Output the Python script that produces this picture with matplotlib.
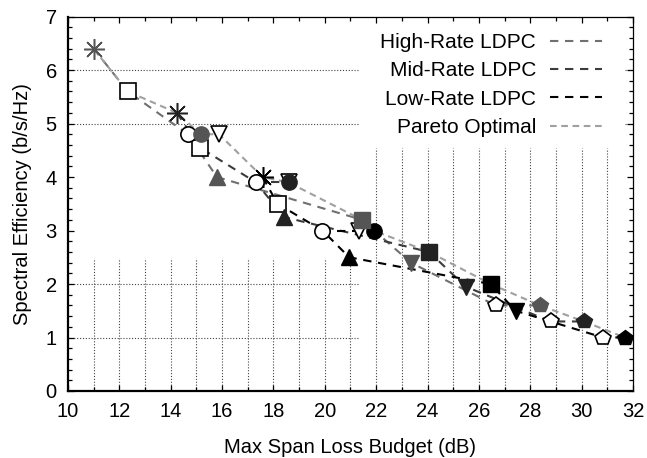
import matplotlib.pyplot as plt
from matplotlib.ticker import MultipleLocator

plt.rcParams['font.family'] = ['Liberation Sans', 'DejaVu Sans']

# max span loss budget (dB) and spectral efficiency (b/s/Hz) for each format,
# entries ordered high / mid / low code rate
loss_256 = [11.0, 14.24, 17.58]
se_256 = [6.4, 5.2, 4.0]
loss_128 = [12.33, 15.14, 18.16]
se_128 = [5.6, 4.55, 3.5]
loss_64 = [14.67, 17.32, 19.91]
loss_64b = [15.17, 18.59, 21.9]
loss_64c = [15.88, 18.59, 21.33]
se_64 = [4.8, 3.9, 3.0]
loss_32 = [15.8, 18.42, 20.95]
se_32 = [4.0, 3.25, 2.5]
loss_16 = [21.45, 24.06, 26.46]
se_16 = [3.2, 2.6, 2.0]
loss_8 = [23.35, 25.49, 27.43]
se_8 = [2.4, 1.95, 1.5]
loss_qpsk = [26.65, 28.79, 30.83]
loss_qpskb = [28.37, 30.09, 31.68]
se_qpsk = [1.6, 1.3, 1.0]

pareto_loss = [11.0, 12.33, 14.24, 15.17, 15.88, 17.58, 18.59, 21.45, 21.9,
               24.06, 26.46, 28.37, 30.09, 31.68]
pareto_se = [6.4, 5.6, 5.2, 4.8, 4.8, 4.0, 3.9, 3.2, 3.0, 2.6, 2.0, 1.6, 1.3, 1.0]

rate_names = ['High-Rate LDPC', 'Mid-Rate LDPC', 'Low-Rate LDPC']
line_colors = ['#707070', '#3c3c3c', '#000000']
fill_colors = ['#555555', '#222222', '#000000']

# (loss, se, marker, filled) -- drawn in this order
formats = [
    (loss_256, se_256, (8, 2, 0), True),
    (loss_128, se_128, 's', False),
    (loss_64, se_64, 'o', False),
    (loss_64c, se_64, 'v', False),
    (loss_64b, se_64, 'o', True),
    (loss_32, se_32, '^', True),
    (loss_16, se_16, 's', True),
    (loss_8, se_8, 'v', True),
    (loss_qpsk, se_qpsk, 'p', False),
    (loss_qpskb, se_qpsk, 'p', True),
]
chain = [0, 1, 2, 5, 6, 7, 8, 9]
sizes = {'o': 11, 's': 11, 'v': 11, '^': 11, 'p': 11.5}

fig = plt.figure(figsize=(6.47, 4.58), dpi=100)
ax = fig.add_axes([0.105, 0.1463, 0.8734, 0.8175])

# dotted grid, drawn piecewise
gkw = dict(color='#444444', lw=0.8, linestyles=(0, (1, 1.6)), zorder=1)
ax.vlines(range(11, 22), 0, 2.48, **gkw)
ax.vlines(range(22, 32), 0, 4.54, **gkw)
ax.hlines([1, 2, 5, 6], 10, 21.3, **gkw)
ax.hlines([5, 6], 31.7, 32, **gkw)

for r in range(3):
    xs = [formats[i][0][r] for i in chain]
    ys = [formats[i][1][r] for i in chain]
    ax.plot(xs, ys, color=line_colors[r], lw=1.5, dashes=(4, 3.2),
            label=rate_names[r], zorder=2)
    ax.plot([loss_64[r], loss_64b[r]], [se_64[r], se_64[r]],
            color=line_colors[r], lw=1.5, dashes=(4, 3.2), zorder=2)

ax.plot(pareto_loss, pareto_se, color='#a0a0a0', lw=1.5, dashes=(3.2, 2.2),
        label='Pareto Optimal', zorder=2)

for loss, se, mk, filled in formats:
    for r in range(3):
        if mk == (8, 2, 0):
            ax.plot(loss[r], se[r], marker=mk, ms=15, mew=1.1,
                    color=fill_colors[r], ls='none', zorder=3)
        elif filled:
            ax.plot(loss[r], se[r], marker=mk, ms=sizes[mk],
                    mfc=fill_colors[r], mec=fill_colors[r], ls='none', zorder=3)
        else:
            ax.plot(loss[r], se[r], marker=mk, ms=sizes[mk],
                    mfc='white', mec='black', mew=1.2, ls='none', zorder=3)

ax.set_xlim(10, 32)
ax.set_ylim(0, 7)
ax.xaxis.set_major_locator(MultipleLocator(2))
ax.xaxis.set_minor_locator(MultipleLocator(1))
ax.yaxis.set_major_locator(MultipleLocator(1))
ax.yaxis.set_minor_locator(MultipleLocator(0.2))
ax.tick_params(which='both', direction='in', top=True, right=True, width=0.9)
ax.tick_params(which='major', length=4.5, labelsize=14.5, pad=8)
ax.tick_params(which='minor', length=3)
for s in ['left', 'bottom']:
    ax.spines[s].set_linewidth(1.6)
for s in ['top', 'right']:
    ax.spines[s].set_linewidth(0.9)

ax.set_xlabel('Max Span Loss Budget (dB)', fontsize=14.5, labelpad=12)
ax.set_ylabel('Spectral Efficiency (b/s/Hz)', fontsize=14.5, labelpad=10)

ax.legend(loc='upper right', bbox_to_anchor=(602 / 647, 1 - 33 / 458),
          bbox_transform=fig.transFigure, frameon=False, markerfirst=False,
          fontsize=15, handlelength=2.5, handletextpad=0.67,
          labelspacing=0.45, borderpad=0, borderaxespad=0)

fig.savefig('out.png', dpi=100)
